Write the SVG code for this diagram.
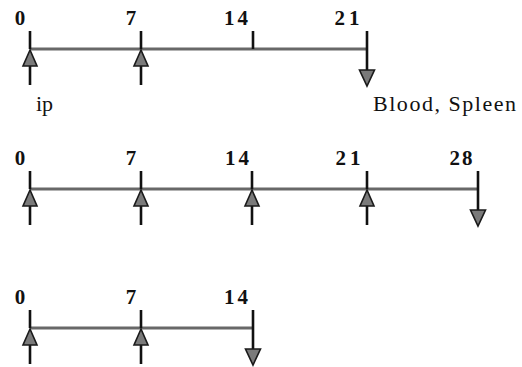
<svg xmlns="http://www.w3.org/2000/svg" width="522" height="367" viewBox="0 0 522 367">
  <style>
    .axis { stroke: #686868; stroke-width: 3; fill: none; }
    .tick { stroke: #111; stroke-width: 2.6; fill: none; }
    .shaft { stroke: #111; stroke-width: 2.6; fill: none; }
    .head { fill: #7a7a7a; stroke: #1a1a1a; stroke-width: 1.6; stroke-linejoin: miter; }
    .day { font-family: "Liberation Serif", "Times New Roman", serif; font-weight: bold; font-size: 21px; fill: #111; text-anchor: middle; }
    .note { font-family: "Liberation Serif", "Times New Roman", serif; font-size: 22px; fill: #111; }
  </style>
  <defs>
    <!-- injection: arrow pointing up to the axis (origin at the axis) -->
    <g id="dose">
      <line class="tick" x1="0" y1="-18" x2="0" y2="0"/>
      <line class="shaft" x1="0" y1="15" x2="0" y2="36"/>
      <polygon class="head" points="0,1 -7,17 7,17"/>
    </g>
    <!-- sampling: arrow pointing down from the axis -->
    <g id="sample">
      <line class="shaft" x1="0" y1="-18" x2="0" y2="23"/>
      <polygon class="head" points="-7.5,21 7.5,21 0,37"/>
    </g>
    <!-- plain day tick -->
    <line id="mark" class="tick" x1="0" y1="-18" x2="0" y2="0"/>
  </defs>

  <!-- schedule 1: day 0 to 21 -->
  <g id="schedule-1">
    <line class="axis" x1="30" y1="49" x2="367" y2="49"/>
    <use href="#dose" x="30" y="49"/>
    <use href="#dose" x="141" y="49"/>
    <use href="#mark" x="253" y="49"/>
    <use href="#sample" x="367" y="49"/>
    <text class="day" x="20" y="25">0</text>
    <text class="day" x="131" y="25">7</text>
    <text class="day" x="236" y="25" textLength="24">14</text>
    <text class="day" x="347" y="25" textLength="25">21</text>
    <text class="note" x="36" y="111">ip</text>
    <text class="note" x="373" y="111" textLength="143">Blood, Spleen</text>
  </g>

  <!-- schedule 2: day 0 to 28 -->
  <g id="schedule-2">
    <line class="axis" x1="30" y1="189" x2="478" y2="189"/>
    <use href="#dose" x="30" y="189"/>
    <use href="#dose" x="141" y="189"/>
    <use href="#dose" x="252" y="189"/>
    <use href="#dose" x="367" y="189"/>
    <use href="#sample" x="478" y="189"/>
    <text class="day" x="20" y="165">0</text>
    <text class="day" x="131" y="165">7</text>
    <text class="day" x="237" y="165" textLength="24">14</text>
    <text class="day" x="348" y="165" textLength="25">21</text>
    <text class="day" x="461" y="165" textLength="23">28</text>
  </g>

  <!-- schedule 3: day 0 to 14 -->
  <g id="schedule-3">
    <line class="axis" x1="30" y1="328" x2="253" y2="328"/>
    <use href="#dose" x="30" y="328"/>
    <use href="#dose" x="141" y="328"/>
    <use href="#sample" x="253" y="328"/>
    <text class="day" x="20" y="304">0</text>
    <text class="day" x="131" y="304">7</text>
    <text class="day" x="236" y="304" textLength="24">14</text>
  </g>
</svg>
